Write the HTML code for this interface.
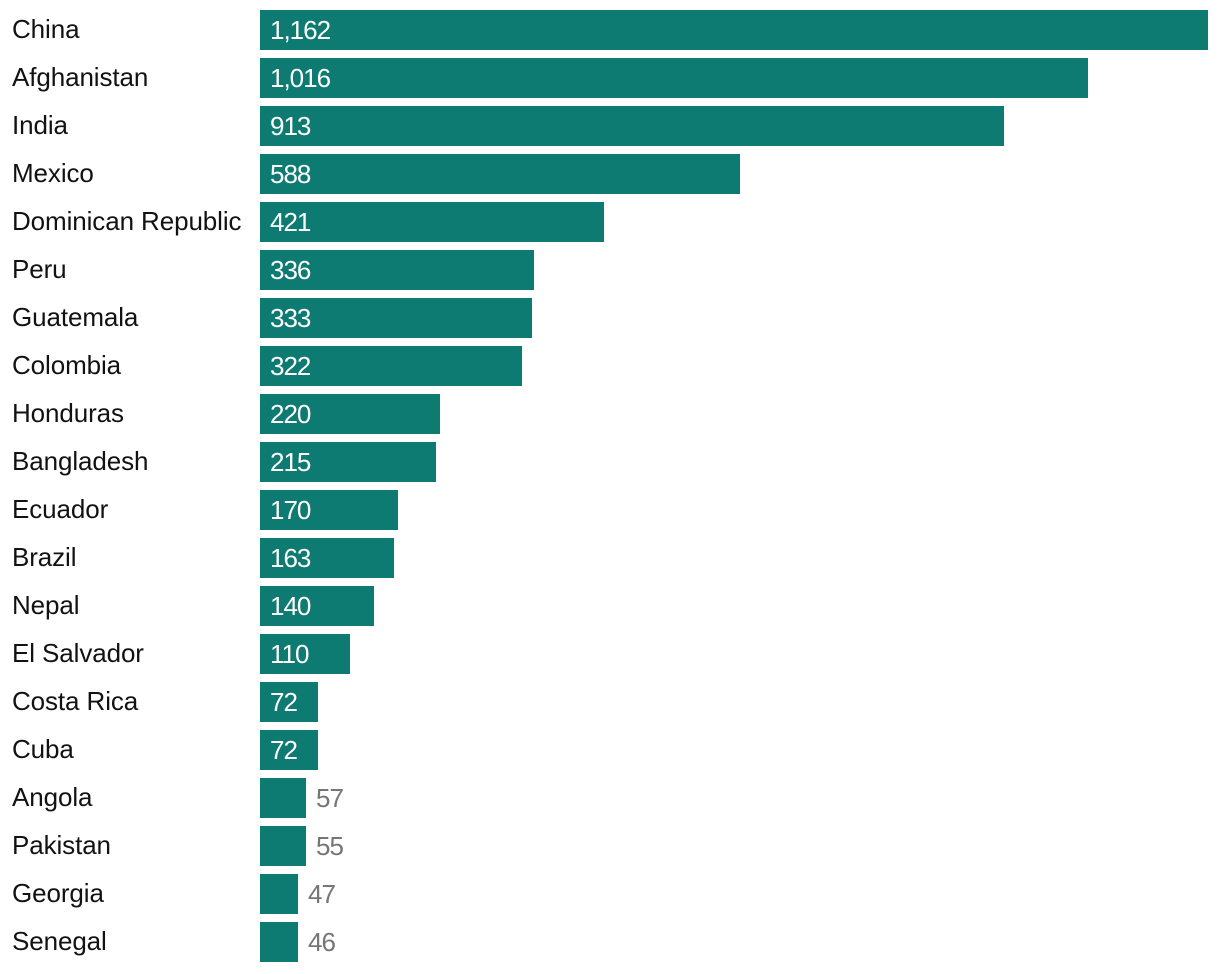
<!DOCTYPE html>
<html><head><meta charset="utf-8"><style>
html,body{margin:0;padding:0;background:#fff;}
svg{display:block;}
text{font-family:"Liberation Sans",sans-serif;font-size:26px;}
.l{fill:#121212;letter-spacing:-0.1px;}
.vi{fill:#fff;letter-spacing:-1px;}
.vo{fill:#767676;letter-spacing:-1px;}
</style></head><body>
<svg width="1220" height="974" viewBox="0 0 1220 974" xmlns="http://www.w3.org/2000/svg">
<g fill="#0e7b72">
<rect x="260" y="10" width="948" height="40"/>
<rect x="260" y="58" width="828" height="40"/>
<rect x="260" y="106" width="744" height="40"/>
<rect x="260" y="154" width="480" height="40"/>
<rect x="260" y="202" width="344" height="40"/>
<rect x="260" y="250" width="274" height="40"/>
<rect x="260" y="298" width="272" height="40"/>
<rect x="260" y="346" width="262" height="40"/>
<rect x="260" y="394" width="180" height="40"/>
<rect x="260" y="442" width="176" height="40"/>
<rect x="260" y="490" width="138" height="40"/>
<rect x="260" y="538" width="134" height="40"/>
<rect x="260" y="586" width="114" height="40"/>
<rect x="260" y="634" width="90" height="40"/>
<rect x="260" y="682" width="58" height="40"/>
<rect x="260" y="730" width="58" height="40"/>
<rect x="260" y="778" width="46" height="40"/>
<rect x="260" y="826" width="46" height="40"/>
<rect x="260" y="874" width="38" height="40"/>
<rect x="260" y="922" width="38" height="40"/>
</g>
<g class="l">
<text x="12" y="38">China</text>
<text x="12" y="86">Afghanistan</text>
<text x="12" y="134">India</text>
<text x="12" y="182">Mexico</text>
<text x="12" y="230">Dominican Republic</text>
<text x="12" y="278">Peru</text>
<text x="12" y="326">Guatemala</text>
<text x="12" y="374">Colombia</text>
<text x="12" y="422">Honduras</text>
<text x="12" y="470">Bangladesh</text>
<text x="12" y="518">Ecuador</text>
<text x="12" y="566">Brazil</text>
<text x="12" y="614">Nepal</text>
<text x="12" y="662">El Salvador</text>
<text x="12" y="710">Costa Rica</text>
<text x="12" y="758">Cuba</text>
<text x="12" y="806">Angola</text>
<text x="12" y="854">Pakistan</text>
<text x="12" y="902">Georgia</text>
<text x="12" y="950">Senegal</text>
</g>
<g class="vi">
<text x="270" y="39">1,162</text>
<text x="270" y="87">1,016</text>
<text x="270" y="135">913</text>
<text x="270" y="183">588</text>
<text x="270" y="231">421</text>
<text x="270" y="279">336</text>
<text x="270" y="327">333</text>
<text x="270" y="375">322</text>
<text x="270" y="423">220</text>
<text x="270" y="471">215</text>
<text x="270" y="519">170</text>
<text x="270" y="567">163</text>
<text x="270" y="615">140</text>
<text x="270" y="663">110</text>
<text x="270" y="711">72</text>
<text x="270" y="759">72</text>
</g>
<g class="vo">
<text x="316" y="807">57</text>
<text x="316" y="855">55</text>
<text x="308" y="903">47</text>
<text x="308" y="951">46</text>
</g>
</svg>
</body></html>
